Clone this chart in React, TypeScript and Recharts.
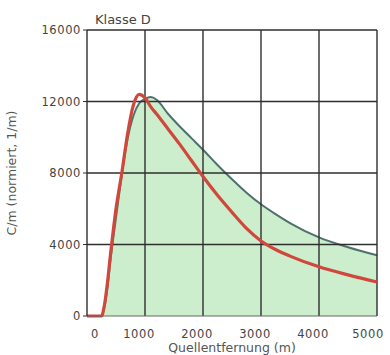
import { ComposedChart, Area, Line, XAxis, YAxis, ReferenceLine, Label } from 'recharts'

// Quellentfernung (m)
const distances = [0, 100, 200, 250, 300, 350, 400, 500, 600, 700, 800, 900, 1000, 1100, 1200, 1400, 1600, 1800, 2000, 2250, 2500, 2750, 3000, 3250, 3500, 4000, 4500, 5000]
// grüne Fläche (dunkle Kontur)
const flaeche = [0, 0, 0, 0, 500, 1500, 3000, 5500, 7900, 9900, 11200, 11900, 12150, 12250, 12100, 11300, 10600, 9950, 9300, 8450, 7650, 6900, 6250, 5700, 5200, 4400, 3850, 3400]
// rote Kurve
const rot = [0, 0, 0, 0, 600, 1800, 3300, 6000, 8000, 10200, 11800, 12400, 12200, 11700, 11300, 10450, 9600, 8700, 7800, 6750, 5800, 4900, 4200, 3720, 3350, 2750, 2300, 1900]

const xTicks = [0, 1000, 2000, 3000, 4000, 5000]
const yTicks = [0, 4000, 8000, 12000, 16000]

const data = distances.map((d, i) => ({ d, flaeche: flaeche[i], rot: rot[i] }))

const font = '"DejaVu Sans", Verdana, sans-serif'
const tick = { fontSize: 11.5, fill: '#444', fontFamily: font, letterSpacing: 0.6 }
const gridColor = '#2e2e2e'

// die Beschriftungen im Original sitzen leicht links der Gitterlinien
const XTick = (props: any) => {
  const { x, y, payload } = props
  const dx = payload.value === 0 ? 8 : -6
  return (
    <text x={x + dx} y={y} dy={12} textAnchor="middle" style={tick}>
      {payload.value}
    </text>
  )
}

export default function App() {
  return (
    <div style={{ position: 'relative', width: 390, height: 355, background: '#fff' }}>
      <style>{'body{margin:0}'}</style>
      <ComposedChart
        width={390}
        height={355}
        data={data}
        margin={{ top: 30, right: 13, left: 0, bottom: 0 }}
      >
        <XAxis
          type="number"
          dataKey="d"
          domain={[0, 5000]}
          ticks={xTicks}
          tick={<XTick />}
          axisLine={{ stroke: '#666' }}
          tickLine={false}
          tickMargin={4}
          height={39}
        >
          <Label value="Quellentfernung (m)" position="insideBottom" offset={3} style={{ fontSize: 12.5, fill: '#555', fontFamily: font }} />
        </XAxis>
        <YAxis
          type="number"
          domain={[0, 16000]}
          ticks={yTicks}
          tick={tick}
          axisLine={{ stroke: gridColor, strokeWidth: 1.4 }}
          tickLine={{ stroke: gridColor }}
          tickSize={4}
          tickMargin={2}
          width={87}
        >
          <Label value="C/m (normiert, 1/m)" angle={-90} position="insideLeft" offset={12} style={{ fontSize: 12.5, fill: '#555', fontFamily: font, textAnchor: 'middle' }} />
        </YAxis>
        <Area
          type="monotone"
          dataKey="flaeche"
          stroke="#4f716d"
          strokeWidth={2}
          fill="#c8ecc8"
          fillOpacity={0.9}
          isAnimationActive={false}
          dot={false}
        />
        {xTicks.slice(1).map(x => (
          <ReferenceLine key={'x' + x} x={x} stroke={gridColor} strokeWidth={1.4} />
        ))}
        {yTicks.slice(1).map(y => (
          <ReferenceLine key={'y' + y} y={y} stroke={gridColor} strokeWidth={1.4} />
        ))}
        <Line
          type="monotone"
          dataKey="rot"
          stroke="#d0473c"
          strokeWidth={3.2}
          dot={false}
          isAnimationActive={false}
        />
      </ComposedChart>
      <div style={{ position: 'absolute', left: 95, top: 12, fontSize: 13, color: '#444', fontFamily: font }}>
        Klasse D
      </div>
    </div>
  )
}
